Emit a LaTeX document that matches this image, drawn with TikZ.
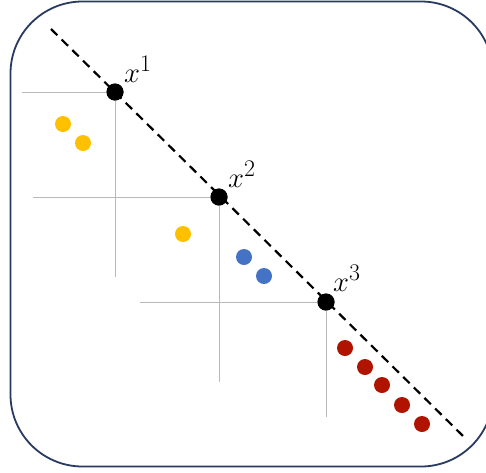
\documentclass[tikz,border=0pt]{standalone}
\usetikzlibrary{calc}
\definecolor{frame}{RGB}{40,58,95}
\definecolor{axisgray}{RGB}{185,185,185}
\definecolor{ylw}{RGB}{255,192,0}
\definecolor{blu}{RGB}{68,114,196}
\definecolor{rd}{RGB}{176,20,0}
\begin{document}
\begin{tikzpicture}[x=1pt,y=-1pt,
  axis/.style={draw=axisgray,line width=0.9pt},
  pt/.style={circle,fill=black,inner sep=0pt,minimum size=17pt},
  dot/.style={circle,inner sep=0pt,minimum size=16pt},
  lab/.style={anchor=base west,inner sep=0pt,font=\Huge,scale=1.15,transform shape}]
\useasboundingbox (0,0) rectangle (486,472);
\begin{scope}
\clip (0,0) rectangle (486,472);
\draw[frame,line width=1.8pt,rounded corners=72pt] (10.5,1.5) rectangle (493,466.5);
\end{scope}
% points
\node[pt] (p1) at (115,92) {};
\node[pt] (p2) at (219,197) {};
\node[pt] (p3) at (326,302) {};
\coordinate (ls) at (51,29);
\coordinate (le) at (463,436);
% axes
\coordinate (h1) at (22,92);
\coordinate (v1) at (115,277);
\coordinate (h2) at (33,197);
\coordinate (v2) at (219,382);
\coordinate (h3) at (140,302);
\coordinate (v3) at (326,417);
\draw[axis] (h1) -- (p1.center) -- (v1);
\draw[axis] (h2) -- (p2.center) -- (v2);
\draw[axis] (h3) -- (p3.center) -- (v3);
% dashed line
\draw[line width=2.2pt,dash pattern=on 9pt off 6pt] (ls) -- (le);
\node[pt] at (p1) {};
\node[pt] at (p2) {};
\node[pt] at (p3) {};
% labels
\node[lab] (l1) at (124,82) {$x^1$};
\node[lab] (l2) at (228,187) {$x^2$};
\node[lab] (l3) at (333,291) {$x^3$};
% dots
\node[dot,fill=ylw] (y1) at (63,124) {};
\node[dot,fill=ylw] (y2) at (83,143) {};
\node[dot,fill=ylw] (y3) at (183,234) {};
\node[dot,fill=blu] (b1) at (244,257) {};
\node[dot,fill=blu] (b2) at (264,276) {};
\node[dot,fill=rd] (r1) at (345,348) {};
\node[dot,fill=rd] (r2) at (365,367) {};
\node[dot,fill=rd] (r3) at (382,385) {};
\node[dot,fill=rd] (r4) at (402,405) {};
\node[dot,fill=rd] (r5) at (422,424) {};
\end{tikzpicture}
\end{document}
